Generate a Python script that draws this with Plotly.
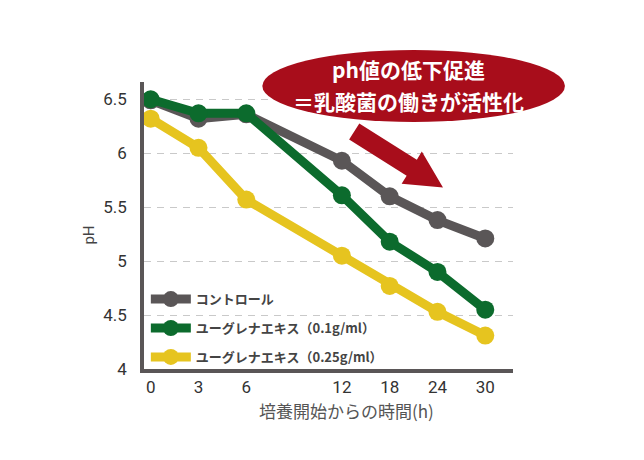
import plotly.graph_objects as go

hours = ["0", "3", "6", "12", "18", "24", "30"]
x_categories = ["0", "3", "6", " ", "12", "18", "24", "30"]

control = [6.49, 6.32, 6.36, 5.93, 5.60, 5.38, 5.21]
euglena_01 = [6.50, 6.37, 6.37, 5.61, 5.18, 4.90, 4.55]
euglena_025 = [6.32, 6.05, 5.57, 5.05, 4.77, 4.53, 4.31]

series_names = ["コントロール", "ユーグレナエキス（0.1g/ml）", "ユーグレナエキス（0.25g/ml）"]
series_colors = ["#5a5657", "#0c6b2d", "#e6c41f"]

y_ticks = [4, 4.5, 5, 5.5, 6, 6.5]
y_ticktext = ["4", "4.5", "5", "5.5", "6", "6.5"]

callout_lines = ["ph値の低下促進", "＝乳酸菌の働きが活性化"]

# page body has an 8px default margin; figure sized/offset to compensate
OFF = 8
W, H = 644 - OFF, 460 - OFF
L, R, T, B = 143.5, 513, 82, 369  # plot area in window pixels


def px(x):
    return (x - L) / (R - L)


def py(y):
    return (B - y) / (B - T)


fig = go.Figure()
for i, (name, vals, col) in enumerate(zip(series_names, [control, euglena_01, euglena_025], series_colors)):
    fig.add_trace(go.Scatter(
        x=hours, y=vals, name=name, mode="lines+markers",
        legendgroup=f"g{i}",
        line=dict(color=col, width=9),
        marker=dict(color=col, size=18),
    ))

num_font = "Liberation Sans Narrow, Arial Narrow, Roboto, sans-serif"
jp_font = "Noto Sans CJK JP, sans-serif"

fig.update_layout(
    width=W, height=H,
    margin=dict(l=L - OFF, r=644 - R, t=T - OFF, b=460 - B, pad=0),
    paper_bgcolor="white", plot_bgcolor="white",
    showlegend=True,
    legend=dict(
        x=0.005, y=-0.011, xanchor="left", yanchor="bottom",
        bgcolor="rgba(0,0,0,0)",
        font=dict(family=jp_font, size=13, color="#444444", weight="bold"),
        tracegroupgap=9, itemwidth=40,
    ),
    xaxis=dict(
        type="category", categoryorder="array", categoryarray=x_categories,
        range=[-0.14, 7.58],
        showline=True, linecolor="#5a5657", linewidth=3.5,
        showgrid=False, ticks="", ticklen=0,
        tickfont=dict(family=num_font, size=17, color="#333333"),
        fixedrange=True,
    ),
    yaxis=dict(
        range=[4, 6.66],
        tickvals=y_ticks, ticktext=y_ticktext,
        showline=True, linecolor="#5a5657", linewidth=3.5,
        showgrid=True, gridcolor="#c9c9c9", gridwidth=1.3, griddash="7px,6px",
        zeroline=False, ticks="", ticklabelstandoff=10,
        tickfont=dict(family=num_font, size=17, color="#333333"),
        fixedrange=True,
    ),
)

# Ellipse callout
fig.add_shape(type="circle", xref="paper", yref="paper",
              x0=px(262), x1=px(565), y0=py(122), y1=py(50),
              fillcolor="#a80d1b", line=dict(width=0), layer="above")

# Arrow
arrow_pts = [(359.1, 123.5), (416.7, 159.7), (421.7, 151.6), (442.9, 187.5),
             (401.5, 183.8), (406.5, 175.7), (348.9, 139.5)]
path = "M " + " L ".join(f"{px(a):.4f},{py(b):.4f}" for a, b in arrow_pts) + " Z"
fig.add_shape(type="path", xref="paper", yref="paper", path=path,
              fillcolor="#a80d1b", line=dict(width=0), layer="above")

for text, yy in zip(callout_lines, [69, 100.5]):
    fig.add_annotation(xref="paper", yref="paper", x=px(408), y=py(yy),
                       xanchor="center", yanchor="middle",
                       text=text, showarrow=False,
                       font=dict(family=jp_font, size=21, color="white", weight="bold"))

# Axis titles
fig.add_annotation(xref="paper", yref="paper", x=px(88), y=py(235),
                   xanchor="center", yanchor="middle",
                   text="pH", showarrow=False, textangle=-90,
                   font=dict(family="Roboto, sans-serif", size=15, color="#444444"))
fig.add_annotation(xref="paper", yref="paper", x=px(346), y=py(410),
                   xanchor="center", yanchor="middle",
                   text="培養開始からの時間(h)", showarrow=False,
                   font=dict(family=jp_font, size=17, color="#555555"))

fig.write_html("out.html")
